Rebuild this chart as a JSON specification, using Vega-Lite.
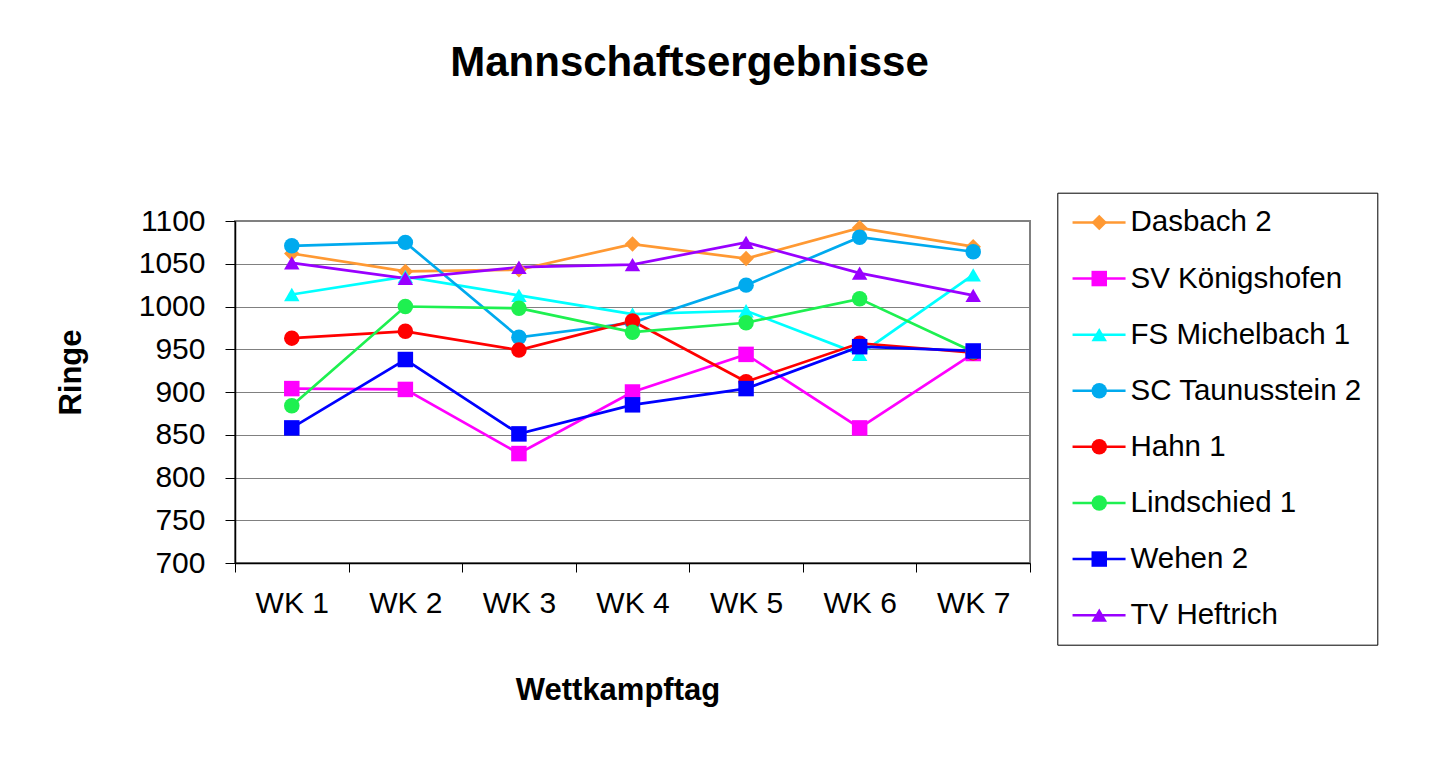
{
  "$schema": "https://vega.github.io/schema/vega-lite/v6.json",
  "width": 795,
  "height": 342,
  "autosize": {"type": "none"},
  "padding": {"left": 235, "top": 221, "right": 411, "bottom": 219},
  "background": "#ffffff",
  "title": {
    "text": "Mannschaftsergebnisse",
    "font": "Liberation Sans",
    "fontSize": 42,
    "fontWeight": "bold",
    "color": "#000000",
    "anchor": "middle",
    "frame": "group",
    "dx": 57,
    "offset": 74,
    "baseline": "alphabetic"
  },
  "data": {
    "values": [
      {"team": "Dasbach 2", "ord": 1, "wk": "WK 1", "ringe": 1062},
      {"team": "Dasbach 2", "ord": 1, "wk": "WK 2", "ringe": 1041},
      {"team": "Dasbach 2", "ord": 1, "wk": "WK 3", "ringe": 1043},
      {"team": "Dasbach 2", "ord": 1, "wk": "WK 4", "ringe": 1073},
      {"team": "Dasbach 2", "ord": 1, "wk": "WK 5", "ringe": 1056},
      {"team": "Dasbach 2", "ord": 1, "wk": "WK 6", "ringe": 1092},
      {"team": "Dasbach 2", "ord": 1, "wk": "WK 7", "ringe": 1070},
      {"team": "SV Königshofen", "ord": 2, "wk": "WK 1", "ringe": 904},
      {"team": "SV Königshofen", "ord": 2, "wk": "WK 2", "ringe": 903},
      {"team": "SV Königshofen", "ord": 2, "wk": "WK 3", "ringe": 828},
      {"team": "SV Königshofen", "ord": 2, "wk": "WK 4", "ringe": 900},
      {"team": "SV Königshofen", "ord": 2, "wk": "WK 5", "ringe": 944},
      {"team": "SV Königshofen", "ord": 2, "wk": "WK 6", "ringe": 858},
      {"team": "SV Königshofen", "ord": 2, "wk": "WK 7", "ringe": 945},
      {"team": "FS Michelbach 1", "ord": 3, "wk": "WK 1", "ringe": 1014},
      {"team": "FS Michelbach 1", "ord": 3, "wk": "WK 2", "ringe": 1035},
      {"team": "FS Michelbach 1", "ord": 3, "wk": "WK 3", "ringe": 1013},
      {"team": "FS Michelbach 1", "ord": 3, "wk": "WK 4", "ringe": 991},
      {"team": "FS Michelbach 1", "ord": 3, "wk": "WK 5", "ringe": 995},
      {"team": "FS Michelbach 1", "ord": 3, "wk": "WK 6", "ringe": 944},
      {"team": "FS Michelbach 1", "ord": 3, "wk": "WK 7", "ringe": 1037},
      {"team": "SC Taunusstein 2", "ord": 4, "wk": "WK 1", "ringe": 1071},
      {"team": "SC Taunusstein 2", "ord": 4, "wk": "WK 2", "ringe": 1075},
      {"team": "SC Taunusstein 2", "ord": 4, "wk": "WK 3", "ringe": 964},
      {"team": "SC Taunusstein 2", "ord": 4, "wk": "WK 4", "ringe": 981},
      {"team": "SC Taunusstein 2", "ord": 4, "wk": "WK 5", "ringe": 1025},
      {"team": "SC Taunusstein 2", "ord": 4, "wk": "WK 6", "ringe": 1081},
      {"team": "SC Taunusstein 2", "ord": 4, "wk": "WK 7", "ringe": 1064},
      {"team": "Hahn 1", "ord": 5, "wk": "WK 1", "ringe": 963},
      {"team": "Hahn 1", "ord": 5, "wk": "WK 2", "ringe": 971},
      {"team": "Hahn 1", "ord": 5, "wk": "WK 3", "ringe": 949},
      {"team": "Hahn 1", "ord": 5, "wk": "WK 4", "ringe": 983},
      {"team": "Hahn 1", "ord": 5, "wk": "WK 5", "ringe": 912},
      {"team": "Hahn 1", "ord": 5, "wk": "WK 6", "ringe": 957},
      {"team": "Hahn 1", "ord": 5, "wk": "WK 7", "ringe": 946},
      {"team": "Lindschied 1", "ord": 6, "wk": "WK 1", "ringe": 884},
      {"team": "Lindschied 1", "ord": 6, "wk": "WK 2", "ringe": 1000},
      {"team": "Lindschied 1", "ord": 6, "wk": "WK 3", "ringe": 998},
      {"team": "Lindschied 1", "ord": 6, "wk": "WK 4", "ringe": 970},
      {"team": "Lindschied 1", "ord": 6, "wk": "WK 5", "ringe": 981},
      {"team": "Lindschied 1", "ord": 6, "wk": "WK 6", "ringe": 1009},
      {"team": "Lindschied 1", "ord": 6, "wk": "WK 7", "ringe": 947},
      {"team": "Wehen 2", "ord": 7, "wk": "WK 1", "ringe": 858},
      {"team": "Wehen 2", "ord": 7, "wk": "WK 2", "ringe": 938},
      {"team": "Wehen 2", "ord": 7, "wk": "WK 3", "ringe": 851},
      {"team": "Wehen 2", "ord": 7, "wk": "WK 4", "ringe": 885},
      {"team": "Wehen 2", "ord": 7, "wk": "WK 5", "ringe": 904},
      {"team": "Wehen 2", "ord": 7, "wk": "WK 6", "ringe": 953},
      {"team": "Wehen 2", "ord": 7, "wk": "WK 7", "ringe": 948},
      {"team": "TV Heftrich", "ord": 8, "wk": "WK 1", "ringe": 1051},
      {"team": "TV Heftrich", "ord": 8, "wk": "WK 2", "ringe": 1033},
      {"team": "TV Heftrich", "ord": 8, "wk": "WK 3", "ringe": 1046},
      {"team": "TV Heftrich", "ord": 8, "wk": "WK 4", "ringe": 1049},
      {"team": "TV Heftrich", "ord": 8, "wk": "WK 5", "ringe": 1075},
      {"team": "TV Heftrich", "ord": 8, "wk": "WK 6", "ringe": 1039},
      {"team": "TV Heftrich", "ord": 8, "wk": "WK 7", "ringe": 1013}
    ]
  },
  "encoding": {
    "x": {
      "field": "wk",
      "type": "nominal",
      "bandPosition": 0.5,
      "scale": {"type": "band", "paddingInner": 0, "paddingOuter": 0},
      "axis": {
        "title": "Wettkampftag",
        "labelAngle": 0,
        "tickBand": "extent",
        "tickSize": 9,
        "tickColor": "#000000",
        "domainColor": "#000000",
        "domainWidth": 1.5,
        "grid": false,
        "labelFont": "Liberation Sans",
        "labelFontSize": 30,
        "labelColor": "#000000",
        "labelBaseline": "alphabetic",
        "labelPadding": 40,
        "titleFont": "Liberation Sans",
        "titleFontSize": 31,
        "titleFontWeight": "bold",
        "titleColor": "#000000",
        "titleX": 382.5,
        "titleY": 136,
        "titleBaseline": "alphabetic",
        "titleAlign": "center"
      }
    },
    "y": {
      "field": "ringe",
      "type": "quantitative",
      "scale": {"domain": [700, 1100], "nice": false, "zero": false},
      "axis": {
        "title": "Ringe",
        "values": [700, 750, 800, 850, 900, 950, 1000, 1050, 1100],
        "format": "d",
        "grid": true,
        "gridColor": "#808080",
        "gridWidth": 1,
        "gridOpacity": 1,
        "tickSize": 10,
        "tickColor": "#000000",
        "domainColor": "#000000",
        "domainWidth": 1.5,
        "labelFont": "Liberation Sans",
        "labelFontSize": 30,
        "labelColor": "#000000",
        "labelPadding": 20,
        "titleFont": "Liberation Sans",
        "titleFontSize": 31,
        "titleFontWeight": "bold",
        "titleColor": "#000000",
        "titleAngle": -90,
        "titleX": -155,
        "titleY": 151,
        "titleBaseline": "alphabetic",
        "titleAlign": "center"
      }
    }
  },
  "layer": [
    {
      "mark": {"type": "line", "strokeWidth": 2.7},
      "encoding": {
        "color": {
          "field": "team",
          "type": "nominal",
          "scale": {
            "domain": ["Dasbach 2", "SV Königshofen", "FS Michelbach 1", "SC Taunusstein 2", "Hahn 1", "Lindschied 1", "Wehen 2", "TV Heftrich"],
            "range": ["#FF9933", "#FF00FF", "#00FFFF", "#00AAEE", "#FF0000", "#1EF050", "#0000FF", "#9900FF"]
          },
          "legend": {
            "title": null,
            "orient": "none",
            "legendX": 822.3,
            "legendY": -28.3,
            "padding": 15,
            "strokeColor": "#000000",
            "symbolType": "M-2.65,0H2.65",
            "symbolSize": 400,
            "symbolStrokeWidth": 2.5,
            "symbolOffset": 12,
            "labelOffset": 16.7,
            "labelFont": "Liberation Sans",
            "labelFontSize": 29.5,
            "labelColor": "#000000",
            "labelLimit": 400,
            "rowPadding": 25.1
          }
        }
      }
    },
    {
      "mark": {"type": "point", "filled": true, "opacity": 1, "size": 240, "strokeWidth": 0},
      "encoding": {
        "fill": {
          "field": "team",
          "type": "nominal",
          "sort": {"field": "ord", "op": "min"},
          "scale": {
            "range": ["#FF9933", "#FF00FF", "#00FFFF", "#00AAEE", "#FF0000", "#1EF050", "#0000FF", "#9900FF"]
          },
          "legend": {
            "title": null,
            "orient": "none",
            "legendX": 834.5,
            "legendY": -28.3,
            "padding": 15,
            "symbolSize": 240,
            "symbolStrokeWidth": 0,
            "symbolOpacity": 1,
            "symbolOffset": 0,
            "labelFont": "Liberation Sans",
            "labelFontSize": 29.5,
            "labelExpr": "''",
            "labelLimit": 400,
            "rowPadding": 25.1
          }
        },
        "shape": {
          "field": "team",
          "type": "nominal",
          "sort": {"field": "ord", "op": "min"},
          "scale": {
            "range": ["diamond", "square", "triangle-up", "circle", "circle", "circle", "square", "triangle-up"]
          },
          "legend": {
            "title": null,
            "orient": "none",
            "legendX": 834.5,
            "legendY": -28.3,
            "padding": 15,
            "symbolSize": 240,
            "symbolStrokeWidth": 0,
            "symbolOpacity": 1,
            "symbolOffset": 0,
            "labelFont": "Liberation Sans",
            "labelFontSize": 29.5,
            "labelExpr": "''",
            "labelLimit": 400,
            "rowPadding": 25.1
          }
        }
      }
    }
  ],
  "config": {
    "view": {"stroke": "#808080", "strokeWidth": 2}
  }
}
